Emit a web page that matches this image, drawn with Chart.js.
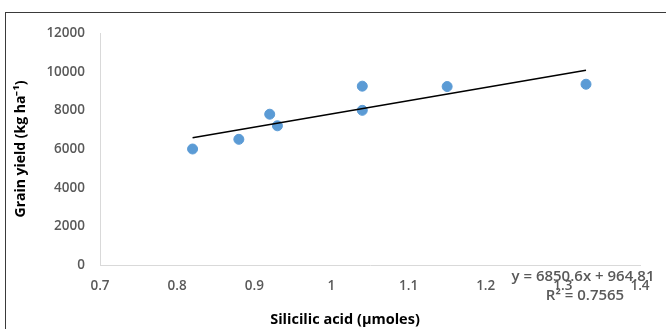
<!DOCTYPE html>
<html>
<head>
<meta charset="utf-8">
<script src="https://cdn.jsdelivr.net/npm/chart.js@4.4.0/dist/chart.umd.min.js"></script>
<style>
  html, body { margin: 0; padding: 0; background: #fff; }
  body { width: 666px; height: 329px; position: relative; overflow: hidden; }
  .frame { position: absolute; left: 5px; top: 12px; width: 700px; height: 400px; border: 1px solid #3a3a3a; box-sizing: border-box; }
  #chartWrap { position: absolute; left: 0; top: 0; width: 666px; height: 329px; }
</style>
</head>
<body>
<div class="frame"></div>
<div id="chartWrap"><canvas id="yieldChart"></canvas></div>
<script>
// silicic acid (x) vs grain yield (y)
const silicicAcid = [0.82, 0.88, 0.92, 0.93, 1.04, 1.04, 1.15, 1.33];
const grainYield = [6000, 6500, 7800, 7200, 9250, 8000, 9230, 9350];

// trendline end points
const trendX = [0.82, 1.33];
const trendY = [6582, 10076];

const xTicks = [0.7, 0.8, 0.9, 1, 1.1, 1.2, 1.3, 1.4];
const yTicks = [0, 2000, 4000, 6000, 8000, 10000, 12000];

const xTitle = "Silicilic acid (µmoles)";
const yTitle = "Grain yield (kg ha⁻¹)";
const equationText = "y = 6850.6x + 964.81";
const r2Text = "R² = 0.7565";

const tickColor = "#595959";
const axisColor = "#d9d9d9";
const tickFont = { family: "Open Sans", size: 13.5, weight: "600" };

const textPlugin = {
  id: "extraText",
  afterDraw(chart) {
    const ctx = chart.ctx;
    ctx.save();
    ctx.textAlign = "center";
    ctx.textBaseline = "middle";

    ctx.fillStyle = "#000";
    ctx.font = "bold 14.5px 'Open Sans'";
    ctx.fillText(xTitle, 345, 320);

    ctx.fillStyle = tickColor;
    ctx.font = "600 15px 'Open Sans'";
    ctx.fillText(equationText, 583, 277);
    ctx.fillText(r2Text, 585, 296);
    ctx.restore();
  }
};

const ctx = document.getElementById("yieldChart");

new Chart(ctx, {
  type: "scatter",
  data: {
    datasets: [
      {
        label: "Grain yield",
        data: silicicAcid.map((x, i) => ({ x, y: grainYield[i] })),
        backgroundColor: "#5b9bd5",
        borderColor: "#5b9bd5",
        pointRadius: 5,
        pointHoverRadius: 5,
        order: 2
      },
      {
        label: "Trend",
        type: "line",
        data: trendX.map((x, i) => ({ x, y: trendY[i] })),
        borderColor: "#000",
        borderWidth: 1.5,
        pointRadius: 0,
        showLine: true,
        fill: false,
        order: 1
      }
    ]
  },
  options: {
    responsive: true,
    maintainAspectRatio: false,
    animation: false,
    events: [],
    layout: { padding: { left: 0, right: 26, top: 33, bottom: 0 } },
    plugins: {
      legend: { display: false },
      tooltip: { enabled: false }
    },
    scales: {
      x: {
        type: "linear",
        min: 0.7,
        max: 1.4,
        afterBuildTicks: scale => {
          scale.ticks = xTicks.map(v => ({ value: v }));
        },
        ticks: {
          color: tickColor,
          font: tickFont,
          padding: 13,
          maxRotation: 0,
          callback: v => String(+v.toFixed(1))
        },
        grid: { drawOnChartArea: false, drawTicks: false },
        border: { display: true, color: axisColor, width: 1 },
        afterFit: scale => { scale.height = 64; }
      },
      y: {
        type: "linear",
        min: 0,
        max: 12000,
        afterBuildTicks: scale => {
          scale.ticks = yTicks.map(v => ({ value: v }));
        },
        ticks: {
          color: tickColor,
          font: tickFont,
          padding: 15,
          callback: v => String(v)
        },
        grid: { drawOnChartArea: false, drawTicks: false },
        border: { display: true, color: axisColor, width: 1 },
        title: {
          display: true,
          text: yTitle,
          color: "#000",
          font: { family: "Open Sans", size: 14, weight: "bold" },
          padding: { top: 13, bottom: 0 }
        },
        afterFit: scale => { scale.width = 100; }
      }
    }
  },
  plugins: [textPlugin]
});
</script>
</body>
</html>
